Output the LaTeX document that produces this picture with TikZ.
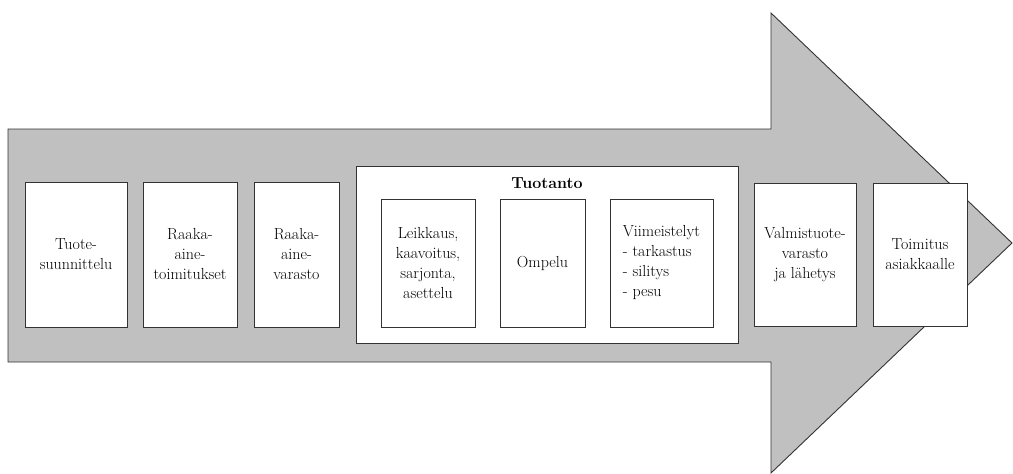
\documentclass[tikz,border=0pt]{standalone}
\definecolor{arrowgray}{HTML}{C0C0C0}
\definecolor{edge}{HTML}{333333}
\begin{document}
\begin{tikzpicture}[x=1pt,y=-1pt,
  every node/.style={font=\fontsize{16}{20}\selectfont},
  box/.style={draw=edge,line width=0.9pt,fill=white,rectangle,inner sep=0pt,align=center},
  outer/.style={box,minimum height=145pt},
  inner/.style={box,minimum height=128pt}]
\useasboundingbox (0,0) rectangle (1013,474);
\draw[draw=edge,line width=0.9pt,fill=arrowgray]
  (8,129) -- (771,129) -- (771,13) -- (1012,243) -- (771,473) -- (771,362) -- (8,362) -- cycle;
\node[outer,minimum width=102pt] (b1) at (76,254.5) {Tuote-\\suunnittelu};
\node[outer,minimum width=94pt] (b2) at (190,254.5) {Raaka-\\aine-\\toimitukset};
\node[outer,minimum width=85pt] (b3) at (296.5,254.5) {Raaka-\\aine-\\varasto};
\node[box,minimum width=382pt,minimum height=177pt] (tuo) at (547,254.5) {};
\node[font=\fontsize{16}{20}\selectfont\bfseries] (tuot) at (547,183) {Tuotanto};
\node[inner,minimum width=94pt] (p1) at (428,263) {Leikkaus,\\kaavoitus,\\sarjonta,\\asettelu};
\node[inner,minimum width=85pt] (p2) at (542.5,263) {Ompelu};
\node[inner,minimum width=103pt,align=left] (p3) at (661.5,263) {Viimeistelyt\\- tarkastus\\- silitys\\- pesu};
\node[outer,minimum width=102pt,minimum height=143pt] (b4) at (805,254.5) {Valmistuote-\\varasto\\ja lähetys};
\node[outer,minimum width=94pt,minimum height=143pt] (b5) at (920,254.5) {Toimitus\\asiakkaalle};
\end{tikzpicture}
\end{document}
